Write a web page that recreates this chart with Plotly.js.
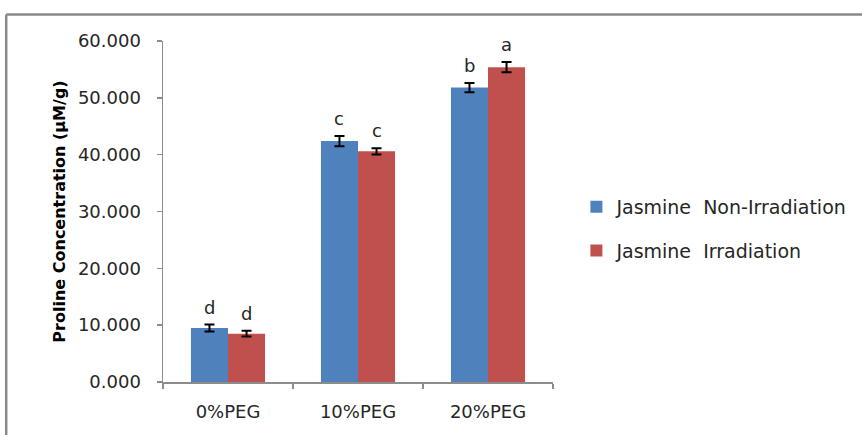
<!DOCTYPE html>
<html>
<head>
<meta charset="utf-8">
<script src="https://cdn.plot.ly/plotly-3.0.1.min.js"></script>
<style>
  html, body { margin: 0; padding: 0; background: #ffffff; overflow: hidden; }
  #chart { width: 862px; height: 435px; }
</style>
</head>
<body>
<div id="chart"></div>
<script>
// ---- data ----
const categories = ['0%PEG', '10%PEG', '20%PEG'];
const seriesNames = ['Jasmine\u00a0 Non-Irradiation', 'Jasmine\u00a0 Irradiation'];
const nonIrradiation = [9.5, 42.4, 51.8];
const nonIrradiationErr = [0.6, 0.9, 0.8];
const irradiation = [8.5, 40.6, 55.4];
const irradiationErr = [0.5, 0.55, 0.9];
const lettersNonIrradiation = ['d', 'c', 'b'];
const lettersIrradiation = ['d', 'c', 'a'];
const yTickValues = [0, 10, 20, 30, 40, 50, 60];

// ---- style ----
const FONT = 'DejaVu Sans';
const TEXT_COLOR = '#262626';
const AXIS_COLOR = '#8c8c8c';
const BAR_GAP = 0.43;
const colors = ['#4F81BD', '#C0504D'];

const errStyle = { type: 'data', visible: true, color: '#000000', thickness: 2, width: 5 };

const traces = [
  {
    type: 'bar', name: seriesNames[0], x: categories, y: nonIrradiation,
    marker: { color: colors[0] },
    error_y: Object.assign({ array: nonIrradiationErr }, errStyle),
    legendgroup: 'g1'
  },
  {
    type: 'bar', name: seriesNames[1], x: categories, y: irradiation,
    marker: { color: colors[1] },
    error_y: Object.assign({ array: irradiationErr }, errStyle),
    legendgroup: 'g2'
  }
];

// letters above error bars, positioned from data
const barOffset = (1 - BAR_GAP) / 4;
const annotations = [];
[[nonIrradiation, nonIrradiationErr, lettersNonIrradiation, -1],
 [irradiation, irradiationErr, lettersIrradiation, 1]].forEach(([vals, errs, letters, side]) => {
  vals.forEach((v, i) => {
    annotations.push({
      x: i + side * barOffset, y: v + errs[i], xref: 'x', yref: 'y',
      text: letters[i], showarrow: false, yanchor: 'bottom', yshift: 5,
      font: { family: FONT, size: 18, color: TEXT_COLOR }
    });
  });
});

const layout = {
  width: 862, height: 435,
  margin: { l: 163, r: 309, t: 41, b: 53, pad: 0, autoexpand: false },
  paper_bgcolor: '#ffffff', plot_bgcolor: '#ffffff',
  barmode: 'group', bargap: BAR_GAP, bargroupgap: 0,
  font: { family: FONT, size: 18, color: TEXT_COLOR },
  showlegend: true,
  legend: {
    x: 1.06, xanchor: 'left', y: 0.449, yanchor: 'middle',
    font: { family: FONT, size: 19, color: TEXT_COLOR },
    traceorder: 'grouped', tracegroupgap: 16,
    bgcolor: 'rgba(0,0,0,0)'
  },
  xaxis: {
    type: 'category', range: [-0.5, 2.5],
    showline: true, linecolor: AXIS_COLOR, linewidth: 1.5,
    ticks: 'outside', ticklen: 5, tickcolor: AXIS_COLOR, tickwidth: 1.5,
    tickson: 'boundaries', ticklabelstandoff: 13,
    tickfont: { family: FONT, size: 18, color: TEXT_COLOR },
    showgrid: false, zeroline: false, fixedrange: true
  },
  yaxis: {
    range: [0, 60], tickvals: yTickValues, tickformat: '.3f',
    showline: true, linecolor: AXIS_COLOR, linewidth: 1.5,
    ticks: 'outside', ticklen: 5, tickcolor: AXIS_COLOR, tickwidth: 1.5,
    ticklabelstandoff: 12,
    tickfont: { family: FONT, size: 18, color: TEXT_COLOR },
    showgrid: false, zeroline: false, fixedrange: true,
    title: { text: 'Proline Concentration (µM/g)', font: { family: FONT, size: 16, color: '#000000', weight: 'bold' }, standoff: 8 }
  },
  annotations: annotations,
  shapes: [
    { type: 'line', xref: 'paper', yref: 'paper', x0: -0.402, x1: 1.85, y0: 1.0777, y1: 1.0777, line: { color: '#8a8a8a', width: 2.5 } },
    { type: 'line', xref: 'paper', yref: 'paper', x0: -0.402, x1: -0.402, y0: -0.2, y1: 1.0777, line: { color: '#8a8a8a', width: 2.5 } }
  ]
};

Plotly.newPlot('chart', traces, layout, { displayModeBar: false, staticPlot: true });
</script>
</body>
</html>
